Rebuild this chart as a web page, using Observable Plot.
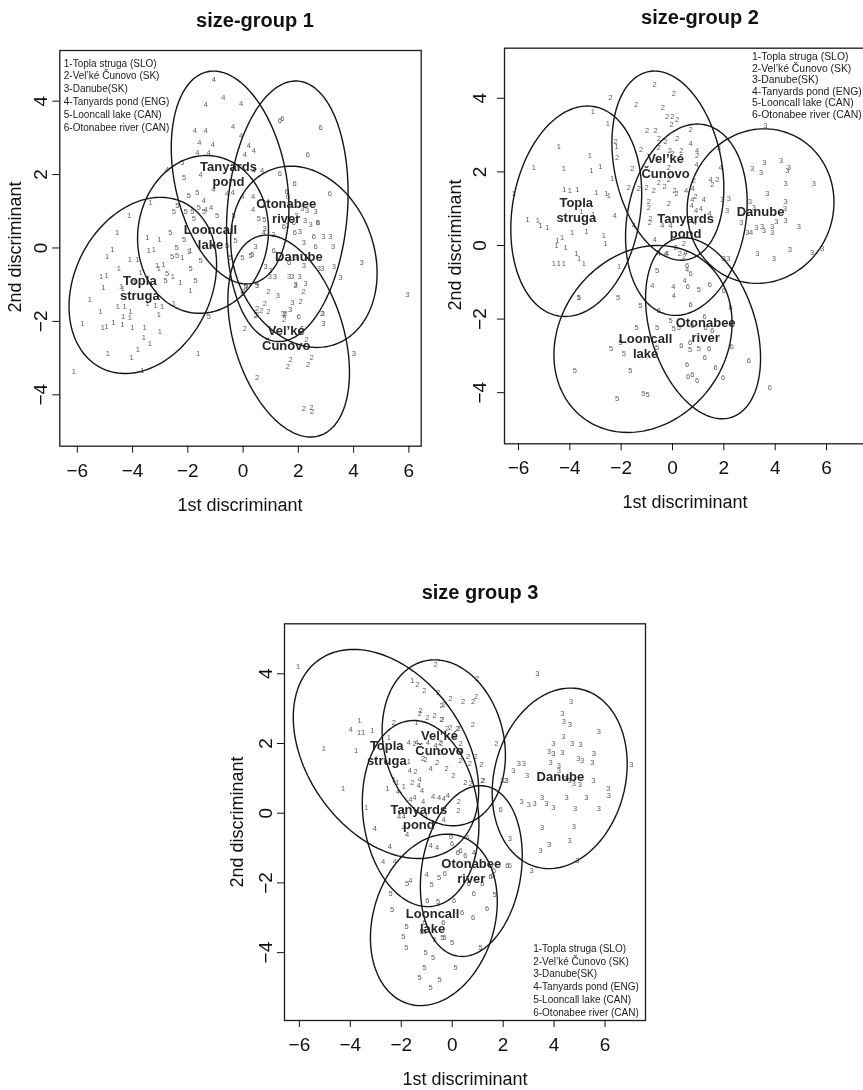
<!DOCTYPE html>
<html>
<head>
<meta charset="utf-8">
<script src="https://cdn.jsdelivr.net/npm/d3@7"></script>
<script src="https://cdn.jsdelivr.net/npm/@observablehq/plot@0.6"></script>
<style>
  body { margin: 0; background: #fff; }
  #fig { position: relative; width: 863px; height: 1090px; overflow: hidden; background: #fff;
         font-family: "Liberation Sans", Arial, Helvetica, sans-serif; color: #111; filter: grayscale(100%); }
  .panel { position: absolute; }
  .panel svg { max-width: none !important; }
  .ttl { position: absolute; font-weight: bold; font-size: 20px; white-space: nowrap; transform: translate(-50%, -50%); }
  .xl { position: absolute; font-size: 18px; white-space: nowrap; transform: translate(-50%, -50%); }
  .yl { position: absolute; font-size: 18px; white-space: nowrap; transform: translate(-50%, -50%) rotate(-90deg); }
</style>
</head>
<body>
<div id="fig"></div>
<script>
// Sampling sites (group codes 1..6) and their short in-plot names
const siteLegend = [
  "1-Topla struga (SLO)",
  "2-Vel’ké Čunovo (SK)",
  "3-Danube(SK)",
  "4-Tanyards pond (ENG)",
  "5-Looncall lake (CAN)",
  "6-Otonabee river (CAN)"
];
const siteNames = ["Topla\nstruga", "Vel’ké\nČunovo", "Danube", "Tanyards\npond", "Looncall\nlake", "Otonabee\nriver"];
const xTicks = [-6, -4, -2, 0, 2, 4, 6];
const yTicks = [-4, -2, 0, 2, 4];

// ---------- size-group 1: discriminant scores [LD1, LD2] ----------
const sg1Topla = [[-4.92,-0.23],[-4.73,-0.05],[-4.50,-0.57],[-4.10,-0.32],[-3.83,-0.32],[-5.14,-0.77],[-4.94,-0.74],[-5.06,-1.07],[-3.71,-0.68],[-3.41,-0.07],[-3.23,-0.05],[-3.11,-0.48],[-2.89,-0.45],[-3.05,-0.57],[-5.55,-1.41],[-5.16,-1.72],[-4.53,-1.59],[-4.29,-1.61],[-4.07,-1.73],[-5.82,-2.07],[-5.08,-2.18],[-4.94,-2.14],[-4.70,-2.02],[-4.37,-2.09],[-4.01,-2.16],[-4.34,-1.87],[-4.10,-1.90],[-3.57,-2.18],[-3.59,-2.45],[-3.38,-2.61],[-3.81,-2.77],[-4.04,-2.99],[-4.90,-2.87],[-6.13,-3.38],[-3.47,-1.52],[-3.17,-1.57],[-2.93,-1.59],[-2.51,-1.52],[-3.05,-1.81],[-3.01,-2.27],[-1.63,-2.88],[-2.27,-0.95],[-1.90,-1.16],[-2.54,-0.79],[-1.96,-0.11],[-3.65,-3.34],[-4.13,0.89],[-3.47,0.28],[-3.03,0.23],[-3.35,1.25],[-4.56,0.43],[-2.20,-0.25],[-1.90,-0.07],[-4.42,-1.05],[-4.35,-1.12],[-3.95,-0.95]];
const sg1Cunovo = [[0.00,-1.20],[0.06,-2.20],[0.51,-1.66],[0.79,-1.52],[0.51,-1.81],[0.91,-1.72],[0.91,-1.20],[1.50,-1.81],[1.48,-1.96],[1.90,-1.02],[2.08,-1.46],[2.18,-1.20],[2.86,-1.79],[2.30,-2.50],[2.48,-3.00],[2.35,-3.18],[1.72,-3.05],[1.62,-3.23],[0.51,-3.54],[2.20,-4.38],[2.47,-4.34],[2.50,-4.45],[2.14,-2.25],[0.45,-1.84],[1.54,-1.79],[0.66,-1.70]];
const sg1Danube = [[0.78,0.52],[1.09,0.37],[0.45,0.04],[2.14,1.07],[2.32,1.02],[1.93,0.87],[2.62,0.98],[2.24,0.75],[2.44,0.64],[2.20,0.16],[2.90,0.30],[3.26,0.04],[0.81,-0.52],[0.99,-0.61],[0.97,-0.79],[1.15,-0.79],[1.66,-0.79],[1.78,-0.79],[2.04,-0.78],[2.20,-0.48],[2.87,-0.55],[1.90,-0.99],[2.26,-0.98],[1.26,-1.29],[1.78,-1.48],[1.70,-1.68],[2.89,-1.78],[2.90,-2.07],[1.44,-1.79],[1.90,-0.27],[3.28,-0.50],[4.29,-0.41],[3.53,-0.80],[5.94,-1.27],[4.01,-2.87],[2.74,-0.57],[3.16,0.30],[1.60,0.60],[2.05,0.45]];
const sg1Tanyards = [[-1.06,4.58],[-0.72,4.09],[-1.35,3.90],[-0.07,3.93],[-0.36,3.31],[-1.75,3.20],[-1.36,3.20],[-0.07,3.07],[-1.58,2.86],[-1.10,2.82],[-1.66,2.61],[-1.24,2.61],[0.21,2.79],[0.39,2.66],[0.06,2.55],[-2.75,2.14],[-1.54,1.99],[-1.08,1.58],[-0.58,1.48],[-1.42,1.29],[-0.03,1.40],[0.36,1.40],[0.36,1.04],[-1.16,1.09],[0.39,2.11],[0.69,2.11],[0.51,-0.98],[0.75,0.43],[-1.36,1.05],[-0.38,1.50]];
const sg1Looncall = [[-2.20,2.34],[-2.14,1.93],[-1.96,1.43],[-1.66,1.52],[-2.38,1.16],[-2.51,0.98],[-2.08,1.00],[-1.84,0.98],[-1.78,0.80],[-1.60,1.11],[-1.42,0.98],[-0.94,0.89],[-2.63,0.43],[-2.14,0.22],[-2.41,0.00],[-2.57,-0.23],[-2.39,-0.20],[-1.54,-0.34],[-1.90,-0.57],[-2.75,-0.70],[-1.72,-0.89],[-2.81,-0.89],[-1.24,-1.88],[-0.58,0.07],[-0.27,0.20],[-0.46,-0.25],[-0.03,-0.25],[-0.34,0.89],[0.27,-0.20],[0.57,0.80],[0.77,0.78],[0.12,-1.02],[-0.03,-1.25],[0.09,-1.04],[0.51,-1.02],[0.33,-0.18]];
const sg1Otonabee = [[1.33,3.47],[1.42,3.52],[2.80,3.29],[2.34,2.54],[1.33,2.04],[1.86,1.75],[1.57,1.55],[3.14,1.49],[2.70,0.70],[1.47,0.57],[1.84,0.70],[1.87,0.43],[2.56,0.32],[2.62,0.04],[1.11,-0.07],[1.66,-0.41],[2.72,0.68],[2.02,-1.88],[1.62,1.40]];
// group ellipses: [mean LD1, mean LD2, half-width, half-height, correlation]
const sg1Ellipses = [[-3.63,-1.02,2.67,2.40,0.24],[1.65,-2.40,2.20,2.75,-0.36],[2.20,-0.24,2.65,2.47,-0.18],[-0.47,1.92,2.13,2.90,-0.28],[-1.45,0.37,2.37,2.15,0.05],[1.60,1.00,2.20,3.55,0.14]];
const sg1Labels = [[-3.74,-1.07],[1.56,-2.45],[2.02,-0.23],[-0.53,2.02],[-1.18,0.31],[1.56,1.02]];

// ---------- size-group 2 ----------
const sg2Topla = [[-3.10,3.64],[-4.43,2.69],[-3.22,2.45],[-5.40,2.11],[-4.23,2.08],[-3.16,2.04],[-2.81,2.15],[-2.52,3.32],[-2.18,2.70],[-4.21,1.52],[-4.00,1.49],[-3.71,1.52],[-2.97,1.43],[-2.58,1.42],[-2.48,1.36],[-2.35,1.81],[-5.66,0.70],[-5.25,0.68],[-5.14,0.54],[-4.88,0.48],[-3.55,0.93],[-3.09,0.83],[-6.18,1.40],[-3.91,0.36],[-3.35,0.39],[-4.49,0.14],[-4.30,0.21],[-2.68,0.27],[-4.52,0.00],[-4.17,-0.06],[-3.75,-0.21],[-3.64,-0.36],[-3.45,-0.48],[-4.62,-0.50],[-4.43,-0.50],[-4.23,-0.48],[-2.61,0.05],[-2.08,-0.57],[-3.65,-1.42]];
const sg2Cunovo = [[0.05,4.14],[-1.42,3.83],[-0.38,3.74],[-0.21,3.51],[-0.01,3.49],[-0.04,3.28],[0.18,3.41],[-0.99,3.13],[-0.66,3.11],[0.70,3.14],[-0.53,2.90],[-0.27,2.81],[0.18,2.90],[-1.22,2.60],[-0.53,2.67],[-0.10,2.58],[-0.01,2.49],[0.34,2.58],[0.96,2.45],[-2.22,2.81],[-2.16,2.38],[-1.57,2.08],[-0.14,2.11],[-0.53,1.72],[-0.14,1.78],[-1.70,1.56],[-1.01,1.57],[-0.73,1.49],[-0.31,1.59],[0.08,1.48],[0.16,1.40],[-0.92,1.18],[-0.92,1.04],[-0.14,1.13],[-0.86,0.72],[-0.88,0.63],[0.83,1.75],[1.55,1.66],[1.75,1.78],[0.90,1.33],[0.44,0.06],[0.29,-0.23],[0.45,-0.29],[0.12,-0.05],[-2.42,4.03],[-0.70,4.38],[-1.31,1.54]];
const sg2Danube = [[3.62,3.26],[3.58,2.24],[3.10,2.08],[3.45,1.99],[4.23,2.31],[4.47,2.04],[2.19,1.27],[1.94,1.24],[2.13,0.95],[3.01,1.20],[3.17,1.04],[2.68,0.63],[3.49,0.50],[3.88,0.50],[3.56,0.41],[3.88,0.36],[2.91,0.36],[4.04,0.66],[3.30,-0.23],[3.95,-0.36],[2.17,-0.36],[4.40,1.69],[5.51,1.68],[3.69,1.42],[4.40,1.18],[4.38,1.00],[4.40,0.68],[4.92,0.50],[3.27,0.48],[4.57,-0.12],[5.44,-0.18],[5.83,-0.09],[2.00,-0.36],[4.53,2.13]];
const sg2Tanyards = [[0.70,2.76],[0.96,2.58],[0.94,2.20],[1.87,2.11],[1.48,1.78],[0.79,1.54],[0.53,1.48],[0.77,1.25],[1.22,1.24],[0.75,1.09],[0.92,0.95],[1.44,0.88],[0.86,0.63],[-0.40,0.54],[-0.08,0.54],[-1.51,0.54],[-2.26,0.80],[-0.70,0.15],[-0.53,-0.21],[-0.21,-0.21],[3.06,0.36],[-0.79,-1.09],[0.03,-1.11],[0.05,-1.36],[0.47,-0.95],[0.57,-0.66],[0.51,-0.18],[-0.27,-0.21],[1.81,2.63],[1.10,1.00]];
const sg2Looncall = [[-3.65,-1.42],[-2.12,-1.42],[-1.25,-1.63],[-1.40,-2.24],[-0.60,-2.22],[-0.08,-2.04],[0.05,-2.26],[0.25,-2.24],[-2.03,-2.63],[-2.39,-2.81],[-1.90,-2.94],[-1.64,-3.40],[-3.81,-3.40],[-2.16,-4.17],[-1.14,-4.03],[-0.97,-4.06],[-0.60,-0.68],[0.68,-2.84],[1.03,-2.81],[-0.60,-2.78],[1.03,-1.20]];
const sg2Otonabee = [[0.57,-0.54],[0.70,-0.77],[0.60,-1.13],[1.45,-1.06],[0.70,-1.60],[-0.53,-1.77],[1.25,-1.93],[1.55,-2.31],[1.29,-2.24],[0.77,-2.17],[0.34,-2.73],[0.68,-2.65],[1.42,-2.81],[2.30,-2.74],[2.97,-3.13],[1.26,-3.05],[0.57,-3.24],[1.68,-3.32],[1.97,-3.60],[0.61,-3.56],[0.77,-3.52],[0.96,-3.67],[3.79,-3.87],[2.00,-1.22],[2.26,-1.68]];
const sg2Ellipses = [[-3.75,0.93,2.55,2.86,0.17],[-0.18,2.17,2.18,2.57,-0.24],[3.43,1.07,2.86,2.10,0.05],[0.54,0.70,2.37,2.60,0.18],[-1.15,-2.54,3.47,2.54,0.17],[1.19,-2.25,2.24,2.46,-0.33]];
const sg2Labels = [[-3.75,0.97],[-0.27,2.16],[3.43,0.92],[0.51,0.54],[-1.05,-2.72],[1.29,-2.30]];

// ---------- size group 3 ----------
const sg3Topla = [[-6.05,4.21],[-3.64,2.66],[-3.66,2.30],[-3.50,2.30],[-3.14,2.37],[-2.49,2.16],[-5.04,1.85],[-3.77,1.80],[-4.28,0.70],[-3.38,0.17],[-2.55,0.70],[-2.29,0.96],[-1.90,0.77],[-1.40,2.60],[-1.57,3.81],[-1.70,1.49],[-2.16,0.89]];
const sg3Cunovo = [[-0.65,4.26],[0.98,3.85],[-1.37,3.68],[-1.09,3.52],[-0.55,3.47],[-0.07,3.28],[0.43,3.21],[0.82,3.21],[0.94,3.35],[-0.42,3.09],[-1.27,2.87],[-0.98,2.75],[-0.69,2.80],[-0.42,2.68],[0.81,2.53],[-2.29,2.61],[-0.07,2.47],[0.26,2.42],[1.73,2.01],[0.33,1.99],[0.62,1.63],[0.92,1.63],[1.14,1.40],[0.69,1.42],[0.04,1.08],[0.52,0.89],[0.72,0.86],[1.18,0.94],[2.11,0.94],[-1.14,1.56],[-0.46,1.75],[-0.43,1.99],[0.26,0.32],[0.24,0.08],[-0.33,3.12],[-0.39,2.68],[-0.20,2.42],[0.20,2.42],[-1.24,2.94],[-1.05,1.53],[-0.59,1.46],[-0.22,1.27],[0.33,1.51],[1.22,0.94],[-1.57,0.89],[-1.48,1.99],[-0.48,2.04],[0.07,2.23],[0.35,1.80],[-1.44,1.18]];
const sg3Danube = [[3.34,4.00],[4.67,3.21],[4.32,2.85],[4.38,2.64],[4.62,2.54],[5.76,2.35],[4.36,2.21],[3.97,1.99],[4.71,1.99],[5.04,1.96],[3.80,1.77],[3.97,1.70],[4.32,1.73],[4.95,1.56],[5.10,1.51],[5.56,1.70],[5.50,1.46],[7.03,1.39],[2.62,1.42],[2.81,1.42],[2.40,1.21],[2.94,1.08],[3.86,1.46],[4.19,1.37],[4.19,1.22],[4.78,0.86],[5.01,0.82],[5.54,0.94],[6.13,0.70],[6.15,0.51],[2.72,0.34],[3.01,0.25],[3.23,0.29],[3.53,0.46],[3.70,0.29],[3.97,0.17],[4.49,0.46],[5.27,0.46],[5.76,0.12],[4.82,0.12],[1.96,0.94],[2.13,0.94],[3.53,-0.40],[4.78,-0.38],[2.26,-0.74],[3.80,-0.91],[3.47,-1.07],[4.61,-0.78],[4.91,-1.36],[3.12,-1.64],[4.45,1.00],[4.60,0.95]];
const sg3Tanyards = [[-3.99,2.40],[-1.70,2.04],[-1.40,2.04],[-0.96,2.04],[-0.65,1.94],[-1.66,1.22],[-0.85,1.27],[-1.28,0.96],[-1.31,0.79],[-1.18,0.65],[-2.13,0.63],[-1.64,0.38],[-1.48,0.46],[-1.14,0.34],[-0.75,0.48],[-0.52,0.46],[-0.33,0.41],[-0.17,0.51],[-2.09,-0.11],[-1.90,-0.10],[-1.05,-0.11],[-0.33,-0.19],[-3.04,-0.45],[-1.92,-0.40],[-1.77,-0.61],[-2.45,-0.95],[-2.71,-1.39],[-2.26,-1.39],[-0.85,-0.93],[0.59,-0.71],[0.85,-1.12],[-1.64,-1.93],[-1.01,-1.76],[-0.59,-0.98]];
const sg3Looncall = [[-1.77,-2.01],[-0.81,-2.05],[-0.52,-1.86],[-2.42,-2.30],[-2.36,-2.77],[-1.79,-3.24],[-1.92,-3.54],[-1.80,-3.86],[-1.05,-4.00],[-0.75,-4.14],[-1.09,-4.44],[0.13,-4.42],[-1.28,-4.72],[-0.50,-4.76],[-0.85,-5.00],[-1.07,-3.39],[-0.39,-3.58],[-0.69,-3.63],[0.00,-3.72],[-0.30,-3.56],[1.11,-3.86],[-1.20,-3.39],[1.66,-2.34],[-0.55,-2.55]];
const sg3Otonabee = [[-0.29,-1.74],[0.65,-2.03],[1.18,-2.03],[0.85,-2.32],[1.37,-2.73],[0.82,-3.00],[0.39,-2.86],[-0.98,-2.52],[0.07,-2.51],[-0.35,-3.13],[-1.09,-3.15],[1.60,-1.79],[1.64,-1.65],[1.90,0.11],[0.00,-0.88],[0.33,-1.07],[0.52,-1.21],[2.16,-1.50],[2.26,-1.50],[-0.04,-0.66],[0.22,-1.12],[1.51,-1.82]];
const sg3Ellipses = [[-2.60,1.70,3.64,3.00,-0.35],[-0.33,2.02,2.42,2.38,-0.15],[4.22,1.00,2.65,2.59,0.16],[-1.24,-0.01,2.29,2.67,-0.12],[-0.72,-3.06,2.49,2.46,0.21],[0.75,-1.66,2.00,2.45,0.18]];
const sg3Labels = [[-2.57,1.73],[-0.50,2.02],[4.25,1.05],[-1.31,-0.10],[-0.77,-3.08],[0.75,-1.66]];

// ---------- drawing ----------
const FONT = "Liberation Sans, Arial, Helvetica, sans-serif";
const fmt = d => d < 0 ? "\u2212" + Math.abs(d) : String(d);

// outline of a bivariate data ellipse from its means, spreads and correlation
function ellipseOutline(params) {
  const out = [];
  params.forEach(([cx, cy, w, h, r], g) => {
    const phi = Math.acos(r);
    for (let k = 0; k <= 144; k++) {
      const t = 2 * Math.PI * k / 144;
      out.push({x: cx + w * Math.cos(t), y: cy + h * Math.cos(t - phi), g});
    }
  });
  return out;
}

function drawPanel(p) {
  const pts = [];
  p.groups.forEach((arr, i) => arr.forEach(([x, y]) => pts.push({x, y, code: String(i + 1)})));
  const labs = p.labels.map(([x, y], i) => ({x, y, name: siteNames[i]}));
  const svg = Plot.plot({
    width: p.width, height: p.height,
    marginLeft: p.m[0], marginTop: p.m[1], marginRight: p.m[2], marginBottom: p.m[3],
    x: {domain: p.xd}, y: {domain: p.yd},
    style: {fontFamily: FONT, background: "transparent", overflow: "visible", maxWidth: "none"},
    marks: [
      Plot.text(pts, {x: "x", y: "y", text: "code", fontSize: 7.5, fill: "#5c5c5c", fontFamily: FONT}),
      Plot.line(ellipseOutline(p.ellipses), {x: "x", y: "y", z: "g", stroke: "#151515", strokeWidth: 1.4}),
      Plot.text(labs, {x: "x", y: "y", text: "name", fontSize: 13, fontWeight: "bold", fill: "#262626", lineHeight: 1.15, fontFamily: FONT}),
      Plot.text([siteLegend.join("\n")], {
        frameAnchor: p.legend.anchor, dx: p.legend.dx, dy: p.legend.dy,
        textAnchor: "start", lineAnchor: p.legend.line, lineHeight: p.legend.lh,
        fontSize: p.legend.fs, fill: "#1a1a1a", fontFamily: FONT
      }),
      Plot.frame({stroke: "#1a1a1a", strokeWidth: 1.3}),
      Plot.axisX({ticks: xTicks, tickFormat: fmt, tickSize: 7, tickPadding: 10, fontSize: 19, color: "#111", label: null, fontFamily: FONT}),
      Plot.axisY({ticks: yTicks, tickFormat: fmt, tickSize: 7, tickPadding: p.yPad, tickRotate: -90, fontSize: 19, color: "#111", label: null, fontFamily: FONT})
    ]
  });
  svg.style.maxWidth = "none";
  const holder = document.createElement("div");
  holder.className = "panel";
  holder.style.left = p.left + "px";
  holder.style.top = p.top + "px";
  holder.style.width = p.width + "px";
  holder.style.height = p.height + "px";
  holder.appendChild(svg);
  return holder;
}

function addText(cls, text, x, y) {
  const d = document.createElement("div");
  d.className = cls;
  d.textContent = text;
  d.style.left = x + "px";
  d.style.top = y + "px";
  fig.appendChild(d);
}

const fig = document.getElementById("fig");

fig.appendChild(drawPanel({
  left: 0, top: 0, width: 431, height: 520, m: [59.3, 50, 10.3, 74.3],
  xd: [-6.634, 6.446], yd: [-5.401, 5.381], yPad: 6,
  groups: [sg1Topla, sg1Cunovo, sg1Danube, sg1Tanyards, sg1Looncall, sg1Otonabee],
  ellipses: sg1Ellipses, labels: sg1Labels,
  legend: {anchor: "top-left", dx: 4, dy: 7, line: "top", lh: 1.28, fs: 10}
}));
fig.appendChild(drawPanel({
  left: 431, top: 0, width: 450, height: 520, m: [73, 47.7, 11, 76.7],
  xd: [-6.545, 7.713], yd: [-5.389, 5.361], yPad: 12,
  groups: [sg2Topla, sg2Cunovo, sg2Danube, sg2Tanyards, sg2Looncall, sg2Otonabee],
  ellipses: sg2Ellipses, labels: sg2Labels,
  legend: {anchor: "top-left", dx: 247.5, dy: 4, line: "top", lh: 1.1, fs: 10.4}
}));
fig.appendChild(drawPanel({
  left: 200, top: 560, width: 460, height: 530, m: [84, 63.3, 15, 70],
  xd: [-6.584, 7.589], yd: [-5.948, 5.435], yPad: 6,
  groups: [sg3Topla, sg3Cunovo, sg3Danube, sg3Tanyards, sg3Looncall, sg3Otonabee],
  ellipses: sg3Ellipses, labels: sg3Labels,
  legend: {anchor: "bottom-right", dx: -112.3, dy: -5, line: "bottom", lh: 1.27, fs: 10}
}));

addText("ttl", "size-group 1", 255, 20);
addText("ttl", "size-group 2", 700, 17);
addText("ttl", "size group 3", 480, 592);
addText("xl", "1st discriminant", 240, 505);
addText("xl", "1st discriminant", 685, 502);
addText("xl", "1st discriminant", 465, 1079);
addText("yl", "2nd discriminant", 15, 247);
addText("yl", "2nd discriminant", 455, 245);
addText("yl", "2nd discriminant", 237, 822);
</script>
</body>
</html>
